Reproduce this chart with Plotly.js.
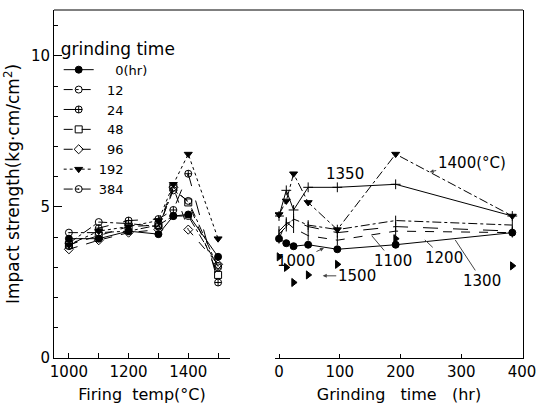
<!DOCTYPE html>
<html>
<head>
<meta charset="utf-8">
<script src="https://cdn.plot.ly/plotly-3.0.1.min.js"></script>
<style>html,body{margin:0;padding:0;background:#fff;}#chart{width:550px;height:411px;}</style>
</head>
<body>
<div id="chart"></div>
<script>
// Data: impact strength (kg·cm/cm²)
const firingTemps = [1000, 1100, 1200, 1300, 1350, 1400, 1500];   // °C
const grindingTimes = [0, 12, 24, 48, 96, 192, 384];                // hr
// one row per firing temperature, values at each grinding time
const imp1000 = [3.95, 3.80, 3.70, 3.75, 3.60, 3.75, 4.15];
const imp1100 = [3.95, 4.50, 4.30, 4.05, 3.90, 4.20, 4.15];
const imp1200 = [4.20, 4.45, 4.55, 4.35, 4.15, 4.35, 4.20];
const imp1300 = [4.10, 4.35, 4.60, 4.40, 4.25, 4.55, 4.40];
const imp1350 = [4.70, 5.55, 4.90, 5.65, 5.65, 5.75, 4.70];
const imp1400 = [4.75, 5.20, 6.10, 5.15, 4.25, 6.75, 4.70];
const imp1500 = [3.35, 3.00, 2.50, 2.75, 3.10, 3.95, 3.05];
const rows = [imp1000, imp1100, imp1200, imp1300, imp1350, imp1400, imp1500];

const legendLabels = ['\u2007\u20070(hr)', '\u200712', '\u200724', '\u200748', '\u200796', '192', '384'];
const tempLabels = ['1000', '1100', '1200', '1300', '1350', '1400(°C)', '1500'];
const leftTickVals = [1000, 1200, 1400];
const rightTickVals = [0, 100, 200, 300, 400];

// styles (left panel, by grinding time)
const leftSymbols = ['circle', 'circle-open', 'circle-cross-open', 'square-open', 'diamond-open', 'triangle-down', 'circle-open-dot'];
const leftDash = ['solid', 'dashdot', 'longdash', 'dash', 'dash', 'dot', 'dashdot'];
// styles (right panel, by firing temperature)
const rightSymbols = ['circle', 'line-ns-open', 'line-ns-open', 'line-ns-open', 'cross-thin-open', 'triangle-down', 'triangle-right'];
const rightDash = ['solid', 'dash', 'longdash', 'dashdot', 'solid', 'dashdot', 'solid'];

const traces = [];
grindingTimes.forEach((g, j) => {
  traces.push({
    type: 'scatter', mode: 'lines+markers',
    x: firingTemps, y: rows.map(r => r[j]),
    name: legendLabels[j], xaxis: 'x', yaxis: 'y',
    line: {color: 'black', width: 1, dash: leftDash[j]},
    marker: {symbol: leftSymbols[j], size: 7, color: 'black', line: {color: 'black', width: 1}},
    showlegend: true
  });
});
firingTemps.forEach((t, i) => {
  traces.push({
    type: 'scatter', mode: i === 6 ? 'markers' : 'lines+markers',
    x: grindingTimes, y: rows[i],
    name: tempLabels[i], xaxis: 'x2', yaxis: 'y2',
    line: {color: 'black', width: 1, dash: rightDash[i]},
    marker: {symbol: rightSymbols[i], size: 7, color: 'black', line: {color: 'black', width: 1}},
    showlegend: false
  });
});

const F = 'DejaVu Sans';
const yRange = [0, 11.52];
const layout = {
  width: 550, height: 411,
  margin: {l: 54, r: 27, t: 10, b: 53},
  paper_bgcolor: 'white', plot_bgcolor: 'white',
  font: {family: F, color: 'black', size: 15},
  showlegend: true,
  legend: {
    x: 0.01, y: 0.935, xanchor: 'left', yanchor: 'top',
    bgcolor: 'rgba(0,0,0,0)', borderwidth: 0,
    title: {text: 'grinding time', font: {family: F, size: 17}},
    font: {family: F, size: 13}, itemwidth: 30, tracegroupgap: 0
  },
  xaxis: {
    domain: [0, 0.3753], range: [950, 1540], anchor: 'y',
    tickvals: leftTickVals,
    ticks: 'inside', ticklen: 5, tickcolor: 'black',
    minor: {tickvals: [1100, 1300, 1500], ticks: 'inside', ticklen: 5, tickcolor: 'black', showgrid: false},
    showline: true, linecolor: 'black', linewidth: 1,
    showgrid: false, zeroline: false,
    tickfont: {family: F, size: 15},
    title: {text: 'Firing\u00a0\u00a0temp(°C)', font: {family: F, size: 16}, standoff: 8}
  },
  xaxis2: {
    domain: [0.4712, 1], range: [-6.6, 401.6], anchor: 'y2',
    tickvals: rightTickVals,
    ticks: 'inside', ticklen: 4, tickcolor: 'black',
    showline: true, linecolor: 'black', linewidth: 1,
    showgrid: false, zeroline: false,
    tickfont: {family: F, size: 15},
    title: {text: 'Grinding\u00a0\u00a0\u00a0time\u00a0\u00a0\u00a0(hr)', font: {family: F, size: 16}, standoff: 8}
  },
  yaxis: {
    domain: [0, 1], range: yRange, anchor: 'x',
    tickvals: [0, 5, 10], ticks: 'inside', ticklen: 8, tickcolor: 'black',
    minor: {dtick: 1, tick0: 0, ticks: 'inside', ticklen: 4, tickcolor: 'black', showgrid: false},
    showline: true, linecolor: 'black', linewidth: 1,
    showgrid: false, zeroline: false,
    tickfont: {family: F, size: 15},
    title: {text: 'Impact strength(kg·cm/cm<sup>2</sup>)', font: {family: F, size: 17}, standoff: 6}
  },
  yaxis2: {
    domain: [0, 1], range: yRange, anchor: 'x2', side: 'right',
    showticklabels: false, ticks: '',
    showline: true, linecolor: 'black', linewidth: 1,
    showgrid: false, zeroline: false
  },
  shapes: [
    {type: 'line', xref: 'paper', yref: 'paper', x0: 0, x1: 1, y0: 1, y1: 1, line: {color: 'black', width: 1}}
  ],
  annotations: [
    {xref: 'x2', yref: 'y2', x: 109, y: 6.09, text: '1350', showarrow: false, font: {family: F, size: 15}},
    {xref: 'x2', yref: 'y2', x: 248, y: 6.16, text: '1400(°C)', showarrow: true, arrowhead: 2, arrowsize: 0.8, arrowwidth: 1, ax: 42, ay: -9, font: {family: F, size: 15}},
    {xref: 'x2', yref: 'y2', x: 74, y: 3.64, text: '1000', showarrow: true, arrowhead: 2, arrowsize: 0.8, arrowwidth: 1, ax: -28, ay: 13, font: {family: F, size: 15}},
    {xref: 'x2', yref: 'y2', x: 153, y: 4.04, text: '1100', showarrow: true, arrowhead: 0, arrowwidth: 1, ax: 21, ay: 25, font: {family: F, size: 15}},
    {xref: 'x2', yref: 'y2', x: 240, y: 3.91, text: '1200', showarrow: true, arrowhead: 0, arrowwidth: 1, ax: 19, ay: 18, font: {family: F, size: 15}},
    {xref: 'x2', yref: 'y2', x: 290, y: 3.91, text: '1300', showarrow: true, arrowhead: 0, arrowwidth: 1, ax: 27, ay: 41, font: {family: F, size: 15}},
    {xref: 'x2', yref: 'y2', x: 72, y: 2.72, text: '1500', showarrow: true, arrowhead: 2, arrowsize: 0.8, arrowwidth: 1, ax: 34, ay: 0, font: {family: F, size: 15}}
  ]
};

Plotly.newPlot('chart', traces, layout, {staticPlot: true, displayModeBar: false});
</script>
</body>
</html>
